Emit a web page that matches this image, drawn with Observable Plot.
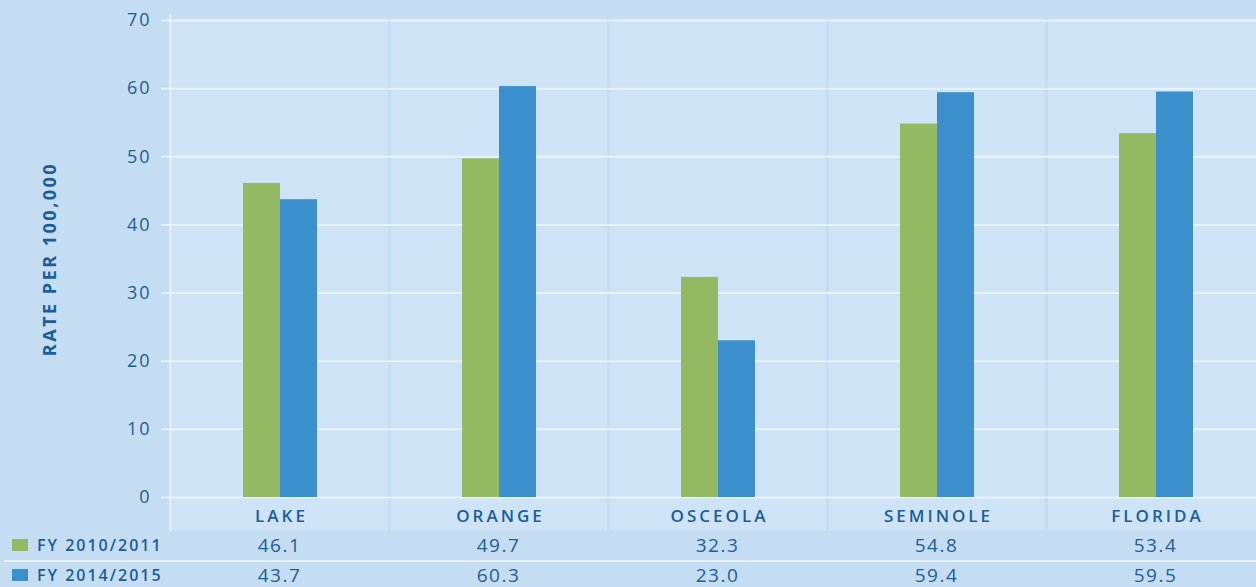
<!DOCTYPE html>
<html><head><meta charset="utf-8">
<script src="https://cdn.jsdelivr.net/npm/d3@7"></script>
<script src="https://cdn.jsdelivr.net/npm/@observablehq/plot@0.6"></script>
<style>
html,body{margin:0;padding:0;background:#c5ddf2;}
#wrap{width:1256px;height:587px;position:relative;overflow:hidden;font-family:"Open Sans",sans-serif;color:#1b5e9a;background:#c5ddf2;}
#chart svg{display:block;overflow:visible;}
#chart g[aria-label="y-axis tick label"] text{letter-spacing:2px;font-size:18px;font-weight:500;}
#chart g[aria-label="fx-axis tick label"] text{letter-spacing:3px;font-size:17px;font-weight:600;}
#chart g[aria-label="y-axis label"] text{font-size:18px;font-weight:700;letter-spacing:2.5px;}
#table{position:relative;height:57px;}
.row{position:absolute;left:0;width:1256px;}
.sw{position:absolute;left:12px;width:16px;height:12px;}
.lab{position:absolute;left:37px;font-size:16px;font-weight:600;letter-spacing:2px;white-space:nowrap;}
.val{position:absolute;font-size:19px;font-weight:500;letter-spacing:1.5px;transform:translateX(-50%);white-space:nowrap;}
.sep{position:absolute;left:4px;right:0;top:30px;height:2px;background:rgba(255,255,255,0.55);}
</style>
</head><body>
<div id="wrap"><div id="chart"></div><div id="table"></div></div>
<script>
const categories = ["LAKE", "ORANGE", "OSCEOLA", "SEMINOLE", "FLORIDA"];
const series = ["FY 2010/2011", "FY 2014/2015"];
const values2010 = [46.1, 49.7, 32.3, 54.8, 53.4];
const values2014 = [43.7, 60.3, 23.0, 59.4, 59.5];
const valueLabels2010 = ["46.1", "49.7", "32.3", "54.8", "53.4"];
const valueLabels2014 = ["43.7", "60.3", "23.0", "59.4", "59.5"];
const seriesColors = ["#93b962", "#3a8fcc"];
const yTicks = [0, 10, 20, 30, 40, 50, 60, 70];
const yLabel = "RATE PER 100,000";

const rows = [];
categories.forEach((c, i) => {
  rows.push({cat: c, series: series[0], value: values2010[i]});
  rows.push({cat: c, series: series[1], value: values2014[i]});
});

const textColor = "#1b5e9a";
const plot = Plot.plot({
  width: 1256, height: 530,
  marginLeft: 170, marginRight: -9, marginTop: 20, marginBottom: 33,
  style: {background: "transparent", color: textColor, fontFamily: "Open Sans, sans-serif", overflow: "visible"},
  fx: {domain: categories, padding: 0, label: null, axis: null},
  x: {domain: series, paddingInner: 0, paddingOuter: 1.92, axis: null},
  y: {domain: [0, 70], axis: null},
  color: {domain: series, range: seriesColors},
  marks: [
    Plot.frame({fill: "#cfe3f6", insetLeft: 1.5, insetRight: 1.5, insetTop: -2, insetBottom: -33}),
    Plot.gridY(yTicks, {stroke: "#ffffff", strokeOpacity: 0.55, strokeWidth: 2}),
    Plot.axisY(yTicks, {tickSize: 9, tickPadding: 10, stroke: "#ffffff", strokeOpacity: 0.55, strokeWidth: 2,
      fontSize: 18, fontWeight: 500, fill: textColor, label: yLabel, labelAnchor: "center", labelOffset: 127, labelArrow: false}),
    Plot.frame({anchor: "left", facet: "super", stroke: "#ffffff", strokeOpacity: 0.6, strokeWidth: 2, insetTop: -5, insetBottom: -33}),
    Plot.barY(rows, {fx: "cat", x: "series", y: "value", fill: "series"}),
    Plot.axisFx({anchor: "bottom", tickSize: 0, tickPadding: 12, fontSize: 17, fontWeight: 600, fill: textColor, label: null, dx: 1.5})
  ]
});
document.getElementById("chart").appendChild(plot);

// data table below the chart, aligned to the fx scale
const fx = plot.scale("fx");
const table = document.getElementById("table");
const rowSpecs = [
  {top: 0, h: 30, color: seriesColors[0], label: series[0], vals: valueLabels2010},
  {top: 32, h: 25, color: seriesColors[1], label: series[1], vals: valueLabels2014}
];
const sep = document.createElement("div"); sep.className = "sep"; table.appendChild(sep);
rowSpecs.forEach(r => {
  const row = document.createElement("div");
  row.className = "row"; row.style.top = r.top + "px"; row.style.height = r.h + "px";
  const sw = document.createElement("div"); sw.className = "sw";
  sw.style.background = r.color; sw.style.top = (r.h / 2 - 6) + "px";
  row.appendChild(sw);
  const lab = document.createElement("div"); lab.className = "lab"; lab.textContent = r.label;
  lab.style.top = (r.h / 2 - 11) + "px"; lab.style.lineHeight = "22px";
  row.appendChild(lab);
  categories.forEach((c, i) => {
    const v = document.createElement("div"); v.className = "val"; v.textContent = r.vals[i];
    v.style.left = (fx.apply(c) + fx.bandwidth / 2) + "px";
    v.style.top = (r.h / 2 - 12) + "px"; v.style.lineHeight = "24px";
    row.appendChild(v);
  });
  table.appendChild(row);
});
</script>
</body></html>
